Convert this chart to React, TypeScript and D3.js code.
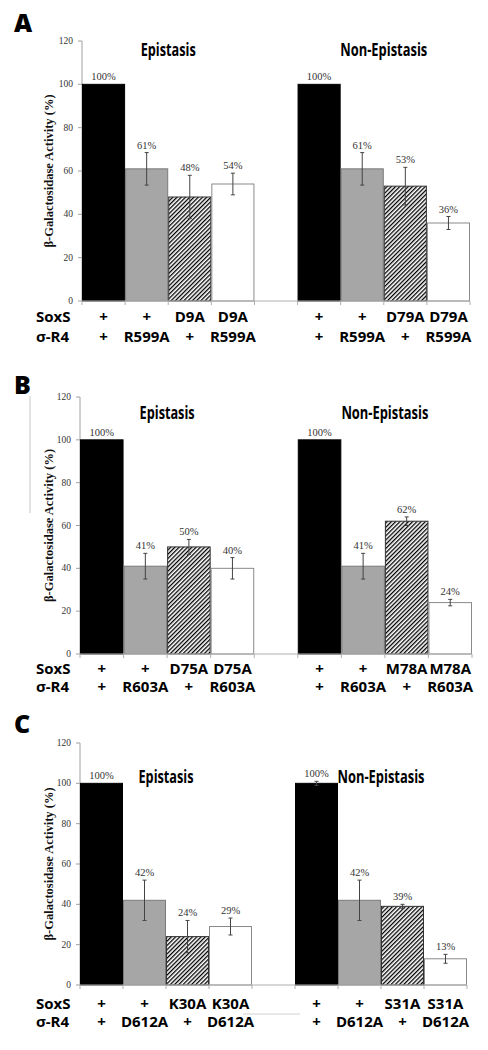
import React from "react";
import * as d3 from "d3";

// ---------- data ----------
const panelLetters = ["A", "B", "C"];
const groupTitles = ["Epistasis", "Non-Epistasis"];
const rowLabels = ["SoxS", "σ-R4"];
const yTicks = [0, 20, 40, 60, 80, 100, 120];
const barKinds = ["black", "gray", "hatch", "white", "black", "gray", "hatch", "white"];

const valuesA = [100, 61, 48, 54, 100, 61, 53, 36];
const errorsA = [0, 7.5, 10, 5, 0, 7.5, 8.7, 3];
const soxA = ["+", "+", "D9A", "D9A", "+", "+", "D79A", "D79A"];
const sigmaA = ["+", "R599A", "+", "R599A", "+", "R599A", "+", "R599A"];

const valuesB = [100, 41, 50, 40, 100, 41, 62, 24];
const errorsB = [0, 6, 3.5, 5, 0, 6, 2, 1.5];
const soxB = ["+", "+", "D75A", "D75A", "+", "+", "M78A", "M78A"];
const sigmaB = ["+", "R603A", "+", "R603A", "+", "R603A", "+", "R603A"];

const valuesC = [100, 42, 24, 29, 100, 42, 39, 13];
const errorsC = [0, 10, 8, 4.2, 1, 10, 1, 2.2];
const soxC = ["+", "+", "K30A", "K30A", "+", "+", "S31A", "S31A"];
const sigmaC = ["+", "D612A", "+", "D612A", "+", "D612A", "+", "D612A"];

// layout per panel (pixels)
const layouts = [
  { x0: 82, x1: 470, y0: 301, y120: 41, letterY: 32, titleY: 56, soxY: 322, sigY: 342 },
  { x0: 80, x1: 472, y0: 654, y120: 397, letterY: 394, titleY: 419, soxY: 674, sigY: 692 },
  { x0: 80, x1: 467, y0: 985, y120: 743, letterY: 733, titleY: 783, soxY: 1009, sigY: 1027 },
];

const panelData = [
  { values: valuesA, errors: errorsA, sox: soxA, sigma: sigmaA },
  { values: valuesB, errors: errorsB, sox: soxB, sigma: sigmaB },
  { values: valuesC, errors: errorsC, sox: soxC, sigma: sigmaC },
];

const slotIndex = [0, 1, 2, 3, 5, 6, 7, 8];

const SANS = "'Open Sans', 'DejaVu Sans', sans-serif";
const SERIF = "'Liberation Serif', 'DejaVu Serif', serif";

function Panel({ idx }: { idx: number }) {
  const L = layouts[idx];
  const D = panelData[idx];
  const x = d3.scaleBand<number>().domain(d3.range(9)).range([L.x0, L.x1]).padding(0);
  const y = d3.scaleLinear().domain([0, 120]).range([L.y0, L.y120]);
  const bw = x.bandwidth();
  const fills: Record<string, string> = {
    black: "#000",
    gray: "#a6a6a6",
    hatch: "url(#hatch)",
    white: "#fff",
  };
  const strokes: Record<string, string> = {
    black: "#000",
    gray: "#7a7a7a",
    hatch: "#333",
    white: "#8a8a8a",
  };
  const groupCenter = (g: number) => {
    const a = x(g * 5)!;
    const b = x(g * 5 + 3)! + bw;
    return (a + b) / 2;
  };
  return (
    <g>
      <text x={14} y={L.letterY} fontFamily={SANS} fontWeight={800} fontSize={25} fill="#000">
        {panelLetters[idx]}
      </text>
      {/* y axis label */}
      <text
        transform={`translate(53,${(L.y0 + L.y120) / 2}) rotate(-90)`}
        textAnchor="middle"
        fontFamily={SERIF}
        fontWeight={700}
        fontSize={12.5}
        fill="#111"
      >
        β-Galactosidase Activity (%)
      </text>
      {/* y axis */}
      <line x1={L.x0} x2={L.x0} y1={y(0)} y2={y(120)} stroke="#a0a0a0" strokeWidth={1} />
      {yTicks.map((t) => (
        <g key={t}>
          <line x1={L.x0 - 4} x2={L.x0} y1={y(t)} y2={y(t)} stroke="#a0a0a0" />
          <text x={L.x0 - 9} y={y(t)} dy="0.33em" textAnchor="end" fontFamily={SERIF} fontSize={9.5} fill="#333">
            {t}
          </text>
        </g>
      ))}
      {/* titles */}
      {groupTitles.map((t, g) => (
        <text
          key={t}
          x={groupCenter(g)}
          y={L.titleY}
          textAnchor="middle"
          fontFamily={SANS}
          fontWeight={700}
          fontSize={17}
          textLength={g === 0 ? 55 : 87}
          lengthAdjust="spacingAndGlyphs"
          fill="#000"
        >
          {t}
        </text>
      ))}
      {/* bars */}
      {D.values.map((v, i) => {
        const k = barKinds[i];
        const xi = x(slotIndex[i])!;
        return (
          <rect
            key={"b" + i}
            x={xi + 0.5}
            y={y(v)}
            width={bw - 1}
            height={y(0) - y(v)}
            fill={fills[k]}
            stroke={strokes[k]}
            strokeWidth={1}
          />
        );
      })}
      {/* x axis */}
      <line x1={L.x0} x2={L.x1} y1={y(0)} y2={y(0)} stroke="#b0b0b0" strokeWidth={1.2} />
      {d3.range(10).map((j) => {
        const xx = j < 9 ? x(j)! : L.x1;
        return <line key={"t" + j} x1={xx} x2={xx} y1={y(0)} y2={y(0) + 4} stroke="#b0b0b0" />;
      })}
      {/* error bars */}
      {D.values.map((v, i) => {
        const e = D.errors[i];
        if (!e) return null;
        const cx = x(slotIndex[i])! + bw / 2;
        return (
          <g key={"e" + i} stroke="#444" strokeWidth={1}>
            <line x1={cx} x2={cx} y1={y(v + e)} y2={y(v - e)} />
            <line x1={cx - 2} x2={cx + 2} y1={y(v + e)} y2={y(v + e)} />
            <line x1={cx - 2} x2={cx + 2} y1={y(v - e)} y2={y(v - e)} />
          </g>
        );
      })}
      {/* value labels */}
      {D.values.map((v, i) => {
        const cx = x(slotIndex[i])! + bw / 2;
        return (
          <text
            key={"v" + i}
            x={cx}
            y={y(v + D.errors[i]) - 4}
            textAnchor="middle"
            fontFamily={SERIF}
            fontSize={10.5}
            fill="#333"
          >
            {v + "%"}
          </text>
        );
      })}
      {/* row labels */}
      {rowLabels.map((r, ri) => (
        <text
          key={r}
          x={36}
          y={ri === 0 ? L.soxY : L.sigY}
          fontFamily={SANS}
          fontWeight={700}
          fontSize={15}
          fill="#000"
        >
          {r}
        </text>
      ))}
      {D.sox.map((s, i) => (
        <text
          key={"s" + i}
          x={x(slotIndex[i])! + bw / 2}
          y={L.soxY}
          textAnchor="middle"
          fontFamily={SANS}
          fontWeight={700}
          fontSize={15}
          fill="#000"
        >
          {s}
        </text>
      ))}
      {D.sigma.map((s, i) => (
        <text
          key={"g" + i}
          x={x(slotIndex[i])! + bw / 2}
          y={L.sigY}
          textAnchor="middle"
          fontFamily={SANS}
          fontWeight={700}
          fontSize={15}
          fill="#000"
        >
          {s}
        </text>
      ))}
    </g>
  );
}

export default function App() {
  return (
    <svg
      width={488}
      height={1050}
      style={{ position: "absolute", left: 0, top: 0, background: "#fff" }}
      xmlns="http://www.w3.org/2000/svg"
    >
      <defs>
        <pattern id="hatch" patternUnits="userSpaceOnUse" width={3} height={3} patternTransform="rotate(45)">
          <rect width={3} height={3} fill="#fff" />
          <line x1={0} y1={0} x2={0} y2={3} stroke="#000" strokeWidth={2.6} />
        </pattern>
      </defs>
      <rect width={488} height={1050} fill="#fff" />
      {/* faint artifact lines from the original figure */}
      <line x1={30} x2={30} y1={396} y2={513} stroke="#c8c8c8" strokeWidth={1} />
      <line x1={243} x2={300} y1={1014} y2={1014} stroke="#d0d0d0" strokeWidth={1} />
      {panelLetters.map((p, i) => (
        <Panel key={p} idx={i} />
      ))}
    </svg>
  );
}
